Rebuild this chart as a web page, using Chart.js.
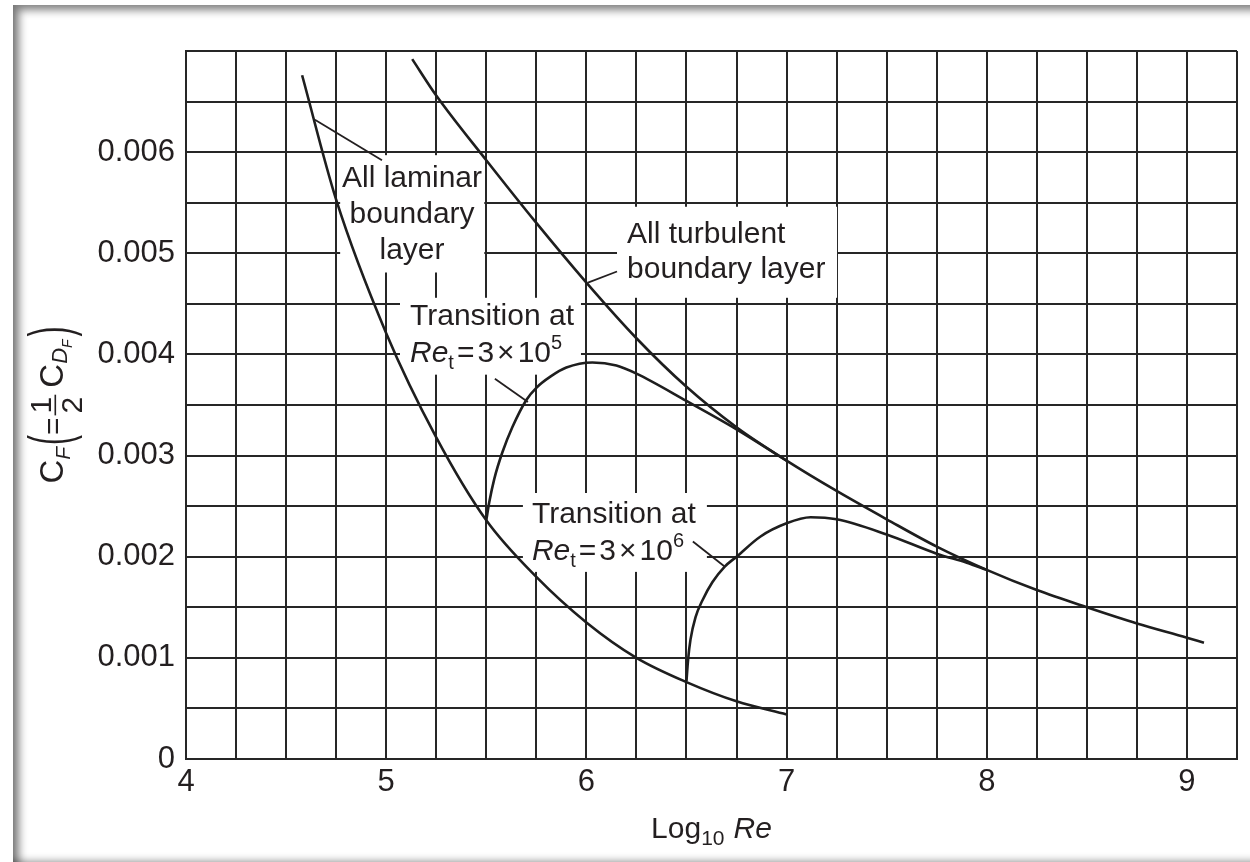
<!DOCTYPE html>
<html>
<head>
<meta charset="utf-8">
<script src="https://cdn.jsdelivr.net/npm/chart.js@4.4.1/dist/chart.umd.min.js"></script>
<style>
  html, body { margin: 0; padding: 0; background: #fff; }
  body { width: 1250px; height: 862px; position: relative; overflow: hidden; }
  #frame {
    position: absolute; left: 13px; top: 5px; width: 1300px; height: 862px; background: #fff;
    box-shadow: inset 10px 9px 9px -4px rgba(0,0,0,0.5), inset 0 -10px 9px -5px rgba(0,0,0,0.5);
  }
  #wrap { position: absolute; left: 0; top: 0; width: 1250px; height: 862px; }
</style>
</head>
<body>
<div id="frame"></div>
<div id="wrap"><canvas id="cfChart" width="1250" height="862"></canvas></div>
<script>
// Skin friction coefficient vs log10 Re
const laminarX = [4.58, 4.75, 5.0, 5.25, 5.5, 5.75, 6.0, 6.25, 6.5, 6.75, 7.0];
const laminarCf = [0.00676, 0.00553, 0.00421, 0.00318, 0.00236, 0.00180, 0.00135, 0.00100, 0.00076, 0.00057, 0.00044];

const turbulentX = [5.13, 5.25, 5.5, 5.75, 6.0, 6.25, 6.5, 6.75, 7.0, 7.25, 7.5, 7.75, 8.0, 8.25, 8.5, 8.75, 9.0, 9.085];
const turbulentCf = [0.00692, 0.00656, 0.00592, 0.0053, 0.00471, 0.00416, 0.00368, 0.00328, 0.00295, 0.00265, 0.00237, 0.0021, 0.00187, 0.00167, 0.0015, 0.00134, 0.0012, 0.00115];

const trans5X = [5.5, 5.515, 5.54, 5.58, 5.63, 5.70, 5.75, 5.82, 5.90, 6.03, 6.15, 6.25, 6.5, 6.75, 7.0];
const trans5Cf = [0.00236, 0.00254, 0.00277, 0.00303, 0.00328, 0.00355, 0.00367, 0.00378, 0.00387, 0.00392, 0.00389, 0.00381, 0.00354, 0.00326, 0.00295];

const trans6X = [6.5, 6.508, 6.52, 6.545, 6.58, 6.63, 6.69, 6.75, 6.87, 7.0, 7.12, 7.25, 7.5, 7.75, 7.9, 8.0];
const trans6Cf = [0.00077, 0.00098, 0.00118, 0.00140, 0.00157, 0.00175, 0.0019, 0.002, 0.0022, 0.00233, 0.00239, 0.00237, 0.00222, 0.00203, 0.00194, 0.00187];

const xTickLabels = ['4', '5', '6', '7', '8', '9'];
const yTickLabels = ['0', '0.001', '0.002', '0.003', '0.004', '0.005', '0.006'];

// white label boxes [xMin, xMax, yTop, yBottom] in axis units
const labelBoxes = [
    [4.77, 5.49, 0.00597, 0.00481],
    [6.153, 7.252, 0.00546, 0.00456],
    [5.069, 5.973, 0.00456, 0.0038],
    [5.683, 6.602, 0.00263, 0.00185]
];

// leader lines [x1, y1, x2, y2] in axis units
const leaders = [
    [4.644, 0.00632, 4.979, 0.00592],
    [6.008, 0.00471, 6.153, 0.00482],
    [5.543, 0.00376, 5.708, 0.00353],
    [6.532, 0.00215, 6.692, 0.0019]
];

const INK = '#231f20';
const FAMILY = '"Liberation Sans", Arial, Helvetica, sans-serif';

const notes = [
    { x: 5.129, align: 'center', ys: [0.005655, 0.0053, 0.004944],
      lines: [[{ t: 'All laminar' }], [{ t: 'boundary' }], [{ t: 'layer' }]] },
    { x: 6.203, align: 'left', ys: [0.005102, 0.004756],
      lines: [[{ t: 'All turbulent' }], [{ t: 'boundary layer' }]] },
    { x: 5.119, align: 'left', ys: [0.004291, 0.003925],
      lines: [[{ t: 'Transition at' }],
              [{ t: 'Re', it: true }, { t: 't', size: 20, dy: 7 }, { t: '=', gap: 3 }, { t: '3', gap: 3 },
               { t: '×', gap: 3 }, { t: '10', gap: 3 }, { t: '5', size: 20, dy: -13 }]] },
    { x: 5.728, align: 'left', ys: [0.002333, 0.001968],
      lines: [[{ t: 'Transition at' }],
              [{ t: 'Re', it: true }, { t: 't', size: 20, dy: 7 }, { t: '=', gap: 3 }, { t: '3', gap: 3 },
               { t: '×', gap: 3 }, { t: '10', gap: 3 }, { t: '6', size: 20, dy: -13 }]] }
];

const xTitleRuns = [{ t: 'Log' }, { t: '10', size: 21, dy: 7 }, { t: 'Re', it: true, gap: 9 }];
const yTitleRuns = [
    { t: 'C', size: 33 }, { t: 'F', size: 21, it: true, dy: 7 },
    { t: '(', size: 30, sy: 2.0, dy: 7, gap: 2 }, { t: '=', size: 30 },
    { frac: ['1', '2'], size: 30, gap: 2 },
    { t: 'C', size: 33, gap: 7 }, { t: 'D', size: 22, it: true, dy: 4 }, { t: 'F', size: 14, it: true, dy: 9 },
    { t: ')', size: 30, sy: 2.0, dy: 7, gap: 3 }
];

function fontOf(r) {
    return (r.it ? 'italic ' : '') + (r.size || 30) + 'px ' + FAMILY;
}

function drawRuns(ctx, runs, x, y, align) {
    let total = 0;
    runs.forEach(r => {
        ctx.font = fontOf(r);
        if (r.frac) {
            r.w = Math.max(ctx.measureText(r.frac[0]).width, ctx.measureText(r.frac[1]).width) + 4;
        } else {
            r.w = ctx.measureText(r.t).width;
        }
        total += (r.gap || 0) + r.w;
    });
    let cx = align === 'center' ? x - total / 2 : x;
    ctx.textAlign = 'left';
    ctx.textBaseline = 'alphabetic';
    runs.forEach(r => {
        cx += r.gap || 0;
        ctx.font = fontOf(r);
        if (r.frac) {
            ctx.textAlign = 'center';
            ctx.fillText(r.frac[0], cx + r.w / 2, y - 12);
            ctx.fillText(r.frac[1], cx + r.w / 2, y + 19);
            ctx.textAlign = 'left';
            ctx.fillRect(cx, y - 8.5, r.w, 1.6);
        } else if (r.sy) {
            // tall thin bracket: stretch across the baseline direction only
            ctx.save();
            ctx.translate(cx, y + (r.dy || 0));
            ctx.scale(1, r.sy);
            ctx.fillText(r.t, 0, 0);
            ctx.restore();
        } else {
            ctx.fillText(r.t, cx, y + (r.dy || 0));
        }
        cx += r.w;
    });
}

const annotationPlugin = {
    id: 'annotations',
    beforeDatasetsDraw(chart) {
        const ctx = chart.ctx, xs = chart.scales.x, ys = chart.scales.y;
        ctx.save();
        ctx.fillStyle = '#fff';
        labelBoxes.forEach(b => {
            const x1 = xs.getPixelForValue(b[0]), x2 = xs.getPixelForValue(b[1]);
            const y1 = ys.getPixelForValue(b[2]), y2 = ys.getPixelForValue(b[3]);
            ctx.fillRect(x1, y1, x2 - x1, y2 - y1);
        });
        ctx.fillStyle = INK;
        notes.forEach(n => {
            n.lines.forEach((runs, i) => {
                drawRuns(ctx, runs, xs.getPixelForValue(n.x), ys.getPixelForValue(n.ys[i]), n.align);
            });
        });
        ctx.restore();
    },
    afterDatasetsDraw(chart) {
        const ctx = chart.ctx, xs = chart.scales.x, ys = chart.scales.y;
        ctx.save();
        ctx.strokeStyle = INK;
        ctx.lineWidth = 1.8;
        leaders.forEach(l => {
            ctx.beginPath();
            ctx.moveTo(xs.getPixelForValue(l[0]), ys.getPixelForValue(l[1]));
            ctx.lineTo(xs.getPixelForValue(l[2]), ys.getPixelForValue(l[3]));
            ctx.stroke();
        });
        ctx.restore();
    },
    afterDraw(chart) {
        const ctx = chart.ctx, area = chart.chartArea;
        ctx.save();
        ctx.fillStyle = INK;
        // x axis title
        drawRuns(ctx, xTitleRuns, (area.left + area.right) / 2, area.bottom + 79, 'center');
        // y axis title, rotated
        ctx.translate(63, (area.top + area.bottom) / 2);
        ctx.rotate(-Math.PI / 2);
        drawRuns(ctx, yTitleRuns, 0, 0, 'center');
        ctx.restore();
    }
};

function series(xv, yv) {
    return xv.map((x, i) => ({ x: x, y: yv[i] }));
}

function lineSet(label, xv, yv) {
    return {
        label: label,
        data: series(xv, yv),
        borderColor: '#1e1e1e',
        borderWidth: 2.6,
        pointRadius: 0,
        fill: false,
        cubicInterpolationMode: 'monotone'
    };
}

new Chart(document.getElementById('cfChart'), {
    type: 'line',
    data: {
        datasets: [
            lineSet('All laminar', laminarX, laminarCf),
            lineSet('All turbulent', turbulentX, turbulentCf),
            lineSet('Transition at 3e5', trans5X, trans5Cf),
            lineSet('Transition at 3e6', trans6X, trans6Cf)
        ]
    },
    options: {
        responsive: false,
        animation: false,
        layout: { padding: { top: 51, right: 13, left: 0, bottom: 0 } },
        plugins: { legend: { display: false }, tooltip: { enabled: false } },
        scales: {
            x: {
                type: 'linear', min: 4, max: 9.25,
                afterFit: s => { s.height = 103; },
                ticks: {
                    stepSize: 0.25, autoSkip: false, maxRotation: 0, padding: 5,
                    color: INK, font: { size: 31, family: FAMILY },
                    callback: v => {
                        const r = Math.round(v);
                        return Math.abs(v - r) < 1e-6 && xTickLabels.includes(String(r)) ? String(r) : '';
                    }
                },
                grid: { color: '#262626', lineWidth: 2, drawTicks: false },
                border: { color: '#262626', width: 2 }
            },
            y: {
                type: 'linear', min: 0, max: 0.007,
                afterFit: s => { s.width = 186; },
                ticks: {
                    stepSize: 0.0005, autoSkip: false, padding: 11,
                    color: INK, font: { size: 31, family: FAMILY },
                    callback: v => {
                        const k = Math.round(v * 2000);
                        return k % 2 === 0 && yTickLabels[k / 2] !== undefined ? yTickLabels[k / 2] : '';
                    }
                },
                grid: { color: '#262626', lineWidth: 2, drawTicks: false },
                border: { color: '#262626', width: 2 }
            }
        }
    },
    plugins: [annotationPlugin]
});
</script>
</body>
</html>
